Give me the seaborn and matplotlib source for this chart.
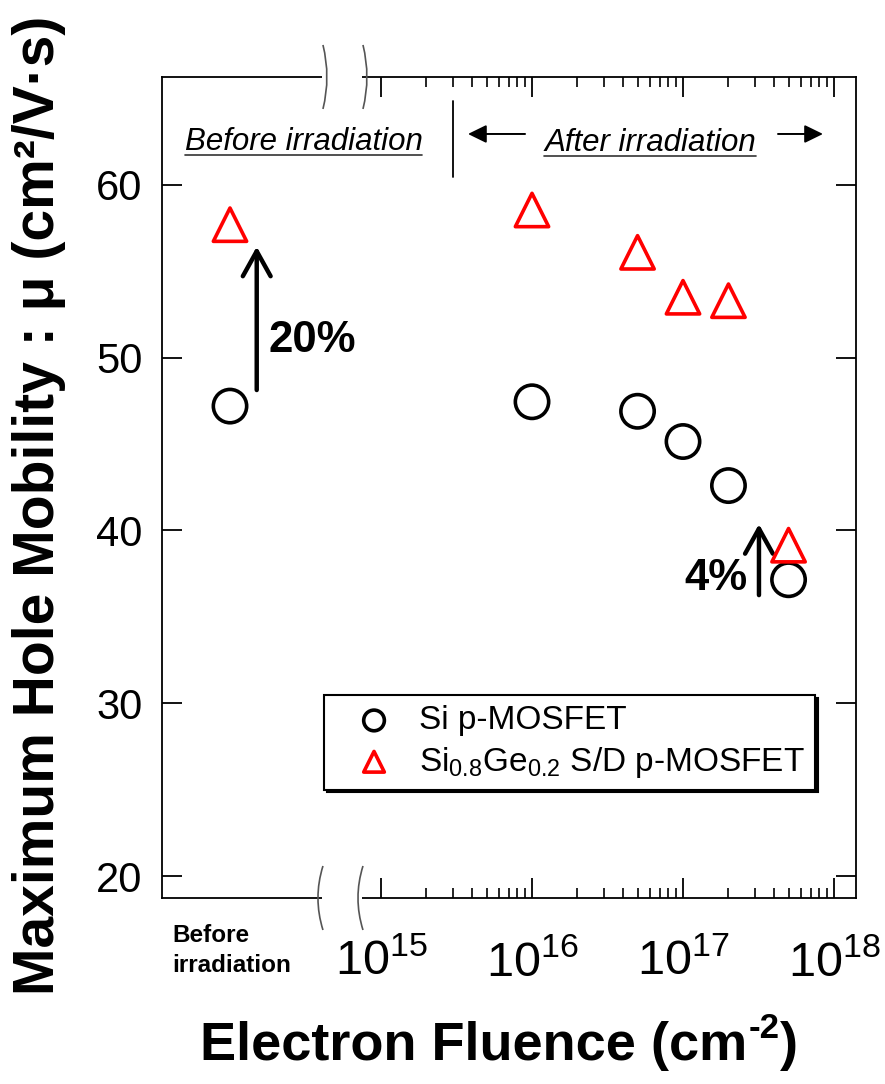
import numpy as np
import pandas as pd
import matplotlib
matplotlib.use("Agg")
import matplotlib.pyplot as plt
import matplotlib.ticker as mticker
from matplotlib.path import Path
from matplotlib.patches import PathPatch, Rectangle
import seaborn as sns

# ---- data -------------------------------------------------------------
# electron fluence in cm^-2; unirradiated devices are drawn at a placeholder
# position to the left of the axis break
PRE_IRRADIATION_POS = 1e14
fluence = [PRE_IRRADIATION_POS, 1e16, 5e16, 1e17, 2e17, 5e17]
si_mobility = [47.2, 47.45, 46.9, 45.15, 42.6, 37.15]
sige_mobility = [57.7, 58.55, 56.1, 53.5, 53.3, 39.15]
series_names = ["Si p-MOSFET",
                r"Si$\mathregular{_{0.8}}$Ge$\mathregular{_{0.2}}$ S/D p-MOSFET"]
x_tick_values = [1e15, 1e16, 1e17, 1e18]
x_tick_labels = [r"$\mathregular{10^{15}}$", r"$\mathregular{10^{16}}$",
                 r"$\mathregular{10^{17}}$", r"$\mathregular{10^{18}}$"]
y_tick_values = [20, 30, 40, 50, 60]

df = pd.DataFrame({
    "fluence": fluence * 2,
    "mobility": si_mobility + sige_mobility,
    "device": [series_names[0]] * len(fluence) + [series_names[1]] * len(fluence),
})

# ---- style ------------------------------------------------------------
sns.set_style("white")
plt.rcParams["font.family"] = ["Liberation Sans", "DejaVu Sans"]
plt.rcParams["mathtext.fontset"] = "custom"
plt.rcParams["mathtext.rm"] = "Liberation Sans"
plt.rcParams["mathtext.it"] = "Liberation Sans:italic"
plt.rcParams["mathtext.bf"] = "Liberation Sans:bold"
for key in ("text.color", "axes.labelcolor", "xtick.color", "ytick.color",
            "axes.edgecolor"):
    plt.rcParams[key] = "black"

fig = plt.figure(figsize=(8.85, 10.84), dpi=100)
ax = fig.add_axes([0.1831, 0.1716, 0.7842, 0.7574])

styles = {series_names[0]: ("o", "black"), series_names[1]: ("^", "red")}
for name in series_names:
    marker, col = styles[name]
    sub = df[df["device"] == name]
    sns.scatterplot(data=sub, x="fluence", y="mobility", ax=ax, marker=marker,
                    s=24 ** 2, facecolor="none", edgecolor=col, color=col,
                    linewidth=2.6, label=name, zorder=4)

ax.set_xscale("log")
ax.set_xlim(10 ** 13.55, 10 ** 18.146)
ax.set_ylim(18.73, 66.25)

ax.set_xticks(x_tick_values)
ax.set_xticklabels(x_tick_labels)
minor = [m * 10.0 ** e for e in (15, 16, 17) for m in range(2, 10)]
ax.xaxis.set_minor_locator(mticker.FixedLocator(minor))
ax.xaxis.set_minor_formatter(mticker.NullFormatter())
ax.set_yticks(y_tick_values)
ax.yaxis.set_minor_locator(mticker.NullLocator())

ax.tick_params(axis="both", which="major", direction="in", length=14.4,
               width=1.3, top=True, right=True, bottom=True, left=True,
               color="black")
ax.tick_params(axis="x", which="minor", direction="in", length=7.2,
               width=1.2, top=True, bottom=True, color="black")
ax.tick_params(axis="x", which="major", labelsize=35, pad=30)
ax.tick_params(axis="y", which="major", labelsize=30, pad=14)
for sp in ax.spines.values():
    sp.set_linewidth(1.3)
    sp.set_color("black")
ax.set_xlabel("")
ax.set_ylabel("")

# ---- axis break ---------------------------------------------------------
xt = ax.get_xaxis_transform()
gap_lo, gap_hi = 10 ** 14.609, 10 ** 14.874
for yb in (0.0, 1.0):
    ax.add_patch(Rectangle((gap_lo, yb - 0.006), gap_hi - gap_lo, 0.012,
                           transform=xt, facecolor="white", edgecolor="none",
                           clip_on=False, zorder=6))
dx_per_px = 1 / 151.0   # decades per pixel
dy_per_px = 1 / 821.0   # axes fraction per pixel


def break_mark(xc, yb, bulge):
    lx = np.log10(xc)
    verts = [(10 ** (lx + 1 * dx_per_px), yb + 32 * dy_per_px),
             (10 ** (lx + bulge * dx_per_px), yb),
             (10 ** (lx + 1 * dx_per_px), yb - 32 * dy_per_px)]
    path = Path(verts, [Path.MOVETO, Path.CURVE3, Path.CURVE3])
    ax.add_patch(PathPatch(path, transform=xt, facecolor="none",
                           edgecolor="#555555", lw=1.2, clip_on=False, zorder=7))


for xc in (gap_lo, gap_hi):
    break_mark(xc, 0.0, -9)
    break_mark(xc, 1.0, 9)

# ---- annotations --------------------------------------------------------
ax.plot([3e15, 3e15], [60.45, 64.88], color="black", lw=1.3, zorder=3)

t_before = ax.text(10 ** 14.487, 62.03, "Before irradiation", style="italic",
                   fontsize=22.5, ha="center", va="baseline")
t_after = ax.text(10 ** 16.781, 61.99, "After irradiation", style="italic",
                  fontsize=22.5, ha="center", va="baseline")
small_arrow = dict(arrowstyle="-|>,head_length=0.45,head_width=0.22",
                   color="black", lw=1.4, mutation_scale=25, shrinkA=0, shrinkB=0)
ax.annotate("", xy=(10 ** 15.576, 62.95), xytext=(10 ** 15.954, 62.95),
            arrowprops=small_arrow)
ax.annotate("", xy=(10 ** 17.927, 62.95), xytext=(10 ** 17.629, 62.95),
            arrowprops=small_arrow)

big_arrow = dict(arrowstyle="->,head_length=0.45,head_width=0.25",
                 color="black", lw=3.2, mutation_scale=40, shrinkA=0, shrinkB=0)
ax.annotate("", xy=(10 ** 14.177, 56.43), xytext=(10 ** 14.177, 48.13),
            arrowprops=big_arrow)
ax.text(10 ** 14.252, 50.35, "20%", fontsize=31.5, fontweight="bold",
        ha="left", va="baseline")
ax.annotate("", xy=(10 ** 17.503, 40.37), xytext=(10 ** 17.503, 36.26),
            arrowprops=big_arrow)
ax.text(10 ** 17.430, 36.55, "4%", fontsize=31.5, fontweight="bold",
        ha="right", va="baseline")

# ---- legend -------------------------------------------------------------
handles, labels = ax.get_legend_handles_labels()
leg = ax.legend(handles, labels, loc="upper left", bbox_to_anchor=(0.2334, 0.247),
                fontsize=24, markerscale=0.62, frameon=True, fancybox=False,
                edgecolor="black", borderpad=0.3, handlelength=2.4,
                handletextpad=0.15, labelspacing=0.25, borderaxespad=0,
                shadow={"color": "black", "alpha": 1.0})
leg.get_frame().set_linewidth(1.5)
leg.set_zorder(8)

# ---- axis titles --------------------------------------------------------
fig.text(0.0135, 0.534, "Maximum Hole Mobility : μ (cm²/V·s)", rotation=90,
         fontsize=41, fontweight="bold", ha="left", va="center")
fig.text(172 / 885, 1 - 924 / 1084, "Before\nirradiation", fontsize=17.5,
         fontweight="bold", ha="left", va="top", linespacing=1.38)

# x title: "Electron Fluence (cm" + raised "-2" + ")"
fig.canvas.draw()
renderer = fig.canvas.get_renderer()
inv = fig.transFigure.inverted()
base_y = 1 - 1060 / 1084
xl_main = fig.text(200 / 885, base_y, "Electron Fluence (cm", fontsize=39,
                   fontweight="bold", ha="left", va="baseline")
bb = xl_main.get_window_extent(renderer)
x_sup = inv.transform((bb.x1 + 1, 0))[0]
xl_sup = fig.text(x_sup, base_y + 22 / 1084, "-2", fontsize=25,
                  fontweight="bold", ha="left", va="baseline")
bb2 = xl_sup.get_window_extent(renderer)
x_close = inv.transform((bb2.x1 + 1, 0))[0]
fig.text(x_close, base_y, ")", fontsize=39, fontweight="bold",
         ha="left", va="baseline")

# underline the two region captions
for t in (t_before, t_after):
    bb = t.get_window_extent(renderer)
    x0, _ = inv.transform((bb.x0, 0))
    x1, _ = inv.transform((bb.x1, 0))
    _, yb = inv.transform((0, bb.y0 + 2))
    fig.add_artist(plt.Line2D([x0, x1], [yb, yb], color="#333333", lw=1.2))

fig.savefig("out.png", dpi=100)
